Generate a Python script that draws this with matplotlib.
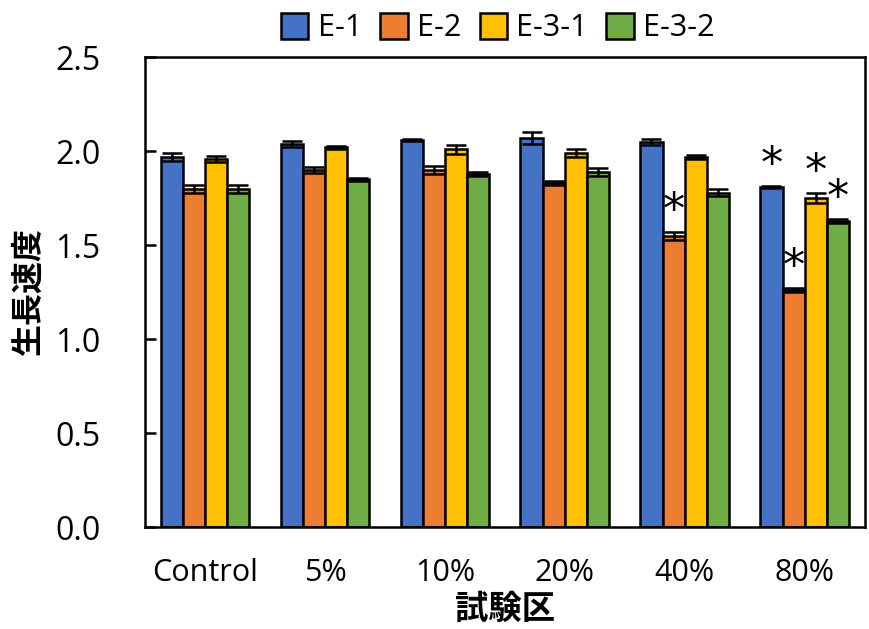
import numpy as np
import matplotlib
matplotlib.use("Agg")
import matplotlib.pyplot as plt

plt.rcParams['font.family'] = ['Open Sans', 'Noto Sans CJK JP', 'DejaVu Sans']

groups = ["Control", "5%", "10%", "20%", "40%", "80%"]
series = ["E-1", "E-2", "E-3-1", "E-3-2"]
colors = ["#4472C4", "#ED7D31", "#FFC000", "#70AD47"]

e1 = [1.97, 2.04, 2.06, 2.07, 2.05, 1.81]
e2 = [1.80, 1.90, 1.90, 1.83, 1.55, 1.26]
e31 = [1.96, 2.02, 2.01, 1.99, 1.97, 1.75]
e32 = [1.80, 1.85, 1.88, 1.89, 1.78, 1.63]

e1_err = [0.02, 0.015, 0.005, 0.03, 0.015, 0.005]
e2_err = [0.02, 0.015, 0.02, 0.01, 0.02, 0.01]
e31_err = [0.015, 0.01, 0.025, 0.02, 0.01, 0.025]
e32_err = [0.02, 0.01, 0.01, 0.02, 0.02, 0.01]

# significance marks (group index, series index)
stars = [(4, 1), (5, 0), (5, 1), (5, 2), (5, 3)]

values = [e1, e2, e31, e32]
errors = [e1_err, e2_err, e31_err, e32_err]

fig = plt.figure(figsize=(8.69, 6.29), dpi=100)
ax = fig.add_axes([0.167, 0.162, 0.828, 0.747])

x = np.arange(len(groups))
w = 0.185
for i, (vals, errs) in enumerate(zip(values, errors)):
    pos = x + (i - 1.5) * w
    ax.bar(pos, vals, w, color=colors[i], edgecolor='black', linewidth=1.8,
           yerr=errs, capsize=7, error_kw=dict(elinewidth=1.8, capthick=1.8),
           label=series[i], zorder=2)

for g, s in stars:
    xp = g + (s - 1.5) * w
    yp = values[s][g] + errors[s][g] + 0.11
    ax.text(xp, yp, "*", ha='center', va='center', fontsize=32,
            family=['DejaVu Sans'])

ax.set_xlim(-0.5, 5.5)
ax.set_ylim(0, 2.5)
ax.set_yticks([0, 0.5, 1.0, 1.5, 2.0, 2.5])
ax.set_yticklabels(["0.0", "0.5", "1.0", "1.5", "2.0", "2.5"])
ax.set_xticks(x)
ax.set_xticklabels(groups)
ax.tick_params(axis='y', direction='in', length=8, width=1.8, labelsize=23, pad=32)
ax.tick_params(axis='x', length=0, labelsize=22, pad=22)
for sp in ax.spines.values():
    sp.set_linewidth(1.8)

ax.set_ylabel("生長速度", fontsize=23, fontweight='bold', family=['Noto Sans CJK JP'], labelpad=8)
ax.set_xlabel("試験区", fontsize=24, fontweight='bold', family=['Noto Sans CJK JP'], labelpad=4)

ax.legend(loc='lower center', bbox_to_anchor=(0.49, 1.0), ncol=4, frameon=False,
          fontsize=22, handlelength=0.9, handleheight=0.9, handletextpad=0.3,
          columnspacing=0.6, borderaxespad=0.05)

fig.savefig("out.png", dpi=100)
